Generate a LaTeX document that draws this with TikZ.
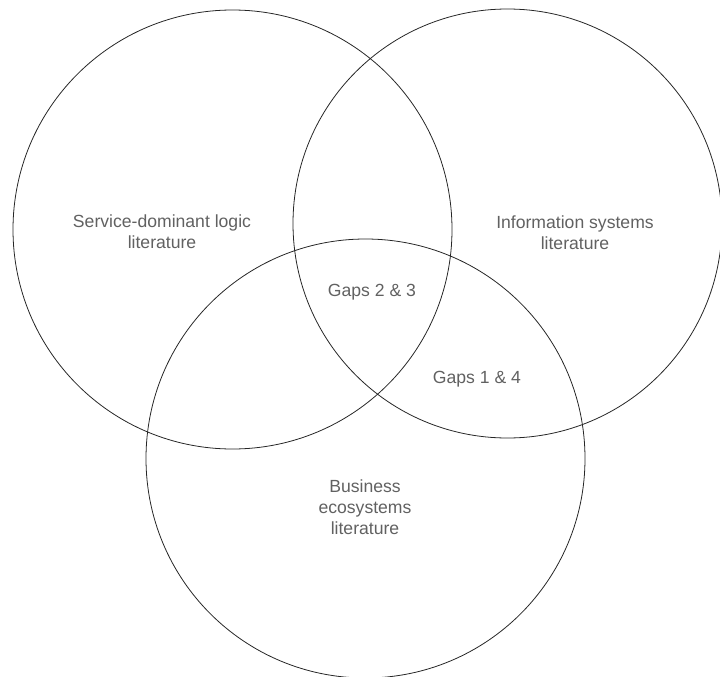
\documentclass[tikz,border=0pt]{standalone}
\usepackage{fontspec}
\setmainfont{Liberation Sans}
\begin{document}
\begin{tikzpicture}[x=1pt,y=-1pt,
  venn/.style={circle, draw=black!85, line width=0.8pt, inner sep=0pt},
  lbl/.style={text=black!62, align=center, font=\fontsize{17.6}{21}\selectfont, inner sep=0pt}]
\useasboundingbox (0,0) rectangle (720,677);
\clip (0,0) rectangle (720,677);
\node[venn, minimum size=439pt] (sdl) at (232.5,229.5) {};
\node[venn, minimum size=429pt] (is) at (507.5,223.5) {};
\node[venn, minimum size=439pt] (be) at (365.5,458.5) {};
\node[lbl] (tsdl) at (162,232) {Service-dominant logic\\literature};
\node[lbl] (tis) at (575,233) {Information systems\\literature};
\node[lbl] (tg23) at (372,292) {Gaps 2 \& 3};
\node[lbl] (tg14) at (477,379) {Gaps 1 \& 4};
\node[lbl] (tbe) at (365,507) {Business\\ecosystems\\literature};
\end{tikzpicture}
\end{document}
